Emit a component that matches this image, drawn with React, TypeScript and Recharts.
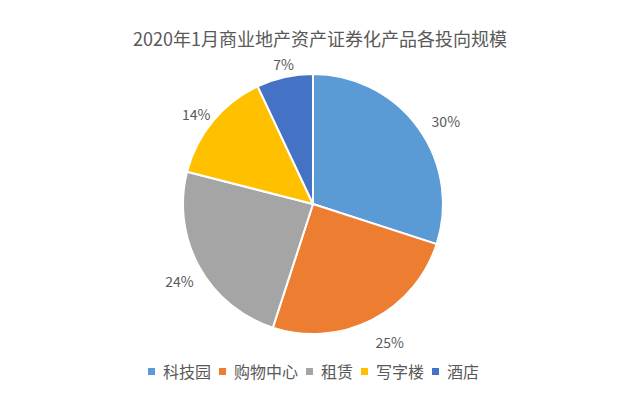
import { PieChart, Pie, Cell } from 'recharts'

const categories = ['科技园', '购物中心', '租赁', '写字楼', '酒店']
const shares = [30, 25, 24, 14, 7]
const colors = ['#5B9BD5', '#ED7D31', '#A5A5A5', '#FFC000', '#4472C4']

const TITLE = '2020年1月商业地产资产证券化产品各投向规模'
const TEXT_COLOR = '#595959'
const FONT = '"Noto Sans CJK SC", "Noto Sans", sans-serif'

const data = categories.map((name, i) => ({ name, value: shares[i] }))

const RAD = Math.PI / 180

// outside-end labels, Excel puts them a bit wider than tall and slightly off to the lower right
function renderLabel(props: any) {
  const { cx, cy, midAngle, outerRadius, value } = props
  const ux = Math.cos(-midAngle * RAD)
  const uy = Math.sin(-midAngle * RAD)
  const x = cx + 5 + (outerRadius + 28) * ux
  const y = cy + 5 + (outerRadius + 19) * uy
  return (
    <text x={x} y={y} fill={TEXT_COLOR} fontSize={14} fontFamily={FONT} textAnchor="middle" dominantBaseline="central">
      {`${value}%`}
    </text>
  )
}

export default function App() {
  return (
    <div style={{ position: 'absolute', left: 0, top: 0, width: 640, height: 395, background: '#fff' }}>
      <div
        style={{
          position: 'absolute',
          top: 28,
          left: 0,
          width: 640,
          textAlign: 'center',
          fontFamily: FONT,
          fontSize: 18,
          color: TEXT_COLOR,
          lineHeight: '20px',
        }}
      >
        {TITLE}
      </div>
      <PieChart width={640} height={395} margin={{ top: 0, right: 0, bottom: 0, left: 0 }}>
        <Pie
          data={data}
          dataKey="value"
          nameKey="name"
          cx={313}
          cy={204}
          outerRadius={130}
          startAngle={90}
          endAngle={-270}
          stroke="#fff"
          strokeWidth={2}
          label={renderLabel}
          labelLine={false}
          isAnimationActive={false}
        >
          {data.map((_, i) => (
            <Cell key={i} fill={colors[i]} />
          ))}
        </Pie>
      </PieChart>
      <div
        style={{
          position: 'absolute',
          top: 359,
          left: 0,
          width: 627,
          height: 24,
          display: 'flex',
          justifyContent: 'center',
          alignItems: 'center',
          fontFamily: FONT,
          fontSize: 16,
          color: TEXT_COLOR,
        }}
      >
        {categories.map((name, i) => (
          <div key={name} style={{ display: 'flex', alignItems: 'center', marginRight: i < categories.length - 1 ? 8 : 0 }}>
            <span style={{ width: 7, height: 7, background: colors[i], display: 'inline-block', marginRight: 8 }} />
            <span>{name}</span>
          </div>
        ))}
      </div>
    </div>
  )
}
